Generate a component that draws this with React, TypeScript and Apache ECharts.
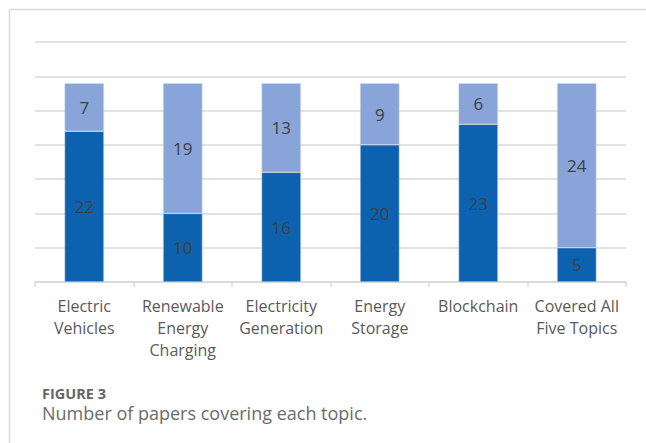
import React, { useEffect, useRef } from "react";
import * as echarts from "echarts";

const categories = [
  "Electric\nVehicles",
  "Renewable\nEnergy\nCharging",
  "Electricity\nGeneration",
  "Energy\nStorage",
  "Blockchain",
  "Covered All\nFive Topics",
];
const lowerValues = [22, 10, 16, 20, 23, 5];
const upperValues = [7, 19, 13, 9, 6, 24];

const figureLabel = "FIGURE 3";
const captionText = "Number of papers covering each topic.";

const DARK = "#0c62ae";
const LIGHT = "#88a4d8";
const GRID = "#d9d9d9";
const FONT = "'Open Sans', 'Noto Sans', sans-serif";

export default function App() {
  const ref = useRef<HTMLDivElement>(null);

  useEffect(() => {
    document.body.style.margin = "0";
    if (!ref.current) return;
    const chart = echarts.init(ref.current, null, { renderer: "svg" });

    const barLabel = {
      show: true,
      position: "inside" as const,
      color: "#404040",
      fontSize: 17,
      fontFamily: FONT,
    };

    chart.setOption({
      animation: false,
      backgroundColor: "#ffffff",
      grid: { left: 35, right: 20, top: 42, bottom: 161, containLabel: false },
      xAxis: {
        type: "category",
        data: categories,
        boundaryGap: true,
        axisLine: { show: true, lineStyle: { color: GRID, width: 1.5 } },
        axisTick: { show: true, length: 5, lineStyle: { color: GRID, width: 1.5 } },
        axisLabel: {
          color: "#595959",
          fontSize: 16,
          lineHeight: 22,
          margin: 13,
          fontFamily: FONT,
          interval: 0,
        },
      },
      yAxis: {
        type: "value",
        min: 0,
        max: 35,
        interval: 5,
        axisLabel: { show: false },
        axisLine: { show: false },
        axisTick: { show: false },
        splitLine: { show: true, lineStyle: { color: GRID, width: 1.5 } },
      },
      series: [
        {
          type: "bar",
          stack: "papers",
          data: lowerValues,
          barWidth: "40%",
          itemStyle: { color: DARK, borderColor: "#d5e0f2", borderWidth: 0.5 },
          label: barLabel,
        },
        {
          type: "bar",
          stack: "papers",
          data: upperValues,
          barWidth: "40%",
          itemStyle: { color: LIGHT, borderColor: "#d5e0f2", borderWidth: 0.5 },
          label: barLabel,
        },
      ],
      graphic: [
        {
          type: "line",
          shape: { x1: 9.5, y1: 9.5, x2: 646, y2: 9.5 },
          style: { stroke: GRID, lineWidth: 1.5 },
        },
        {
          type: "line",
          shape: { x1: 9.5, y1: 9.5, x2: 9.5, y2: 443 },
          style: { stroke: GRID, lineWidth: 1.5 },
        },
        {
          type: "text",
          x: 42,
          y: 393,
          style: {
            text: figureLabel,
            fill: "#666666",
            fontSize: 14.5,
            fontWeight: "bold",
            fontFamily: FONT,
            verticalAlign: "middle",
          },
        },
        {
          type: "text",
          x: 42,
          y: 413,
          style: {
            text: captionText,
            fill: "#6b6b6b",
            fontSize: 18,
            fontFamily: FONT,
            verticalAlign: "middle",
          },
        },
      ],
    });

    return () => chart.dispose();
  }, []);

  return <div ref={ref} style={{ width: 646, height: 443 }} />;
}
